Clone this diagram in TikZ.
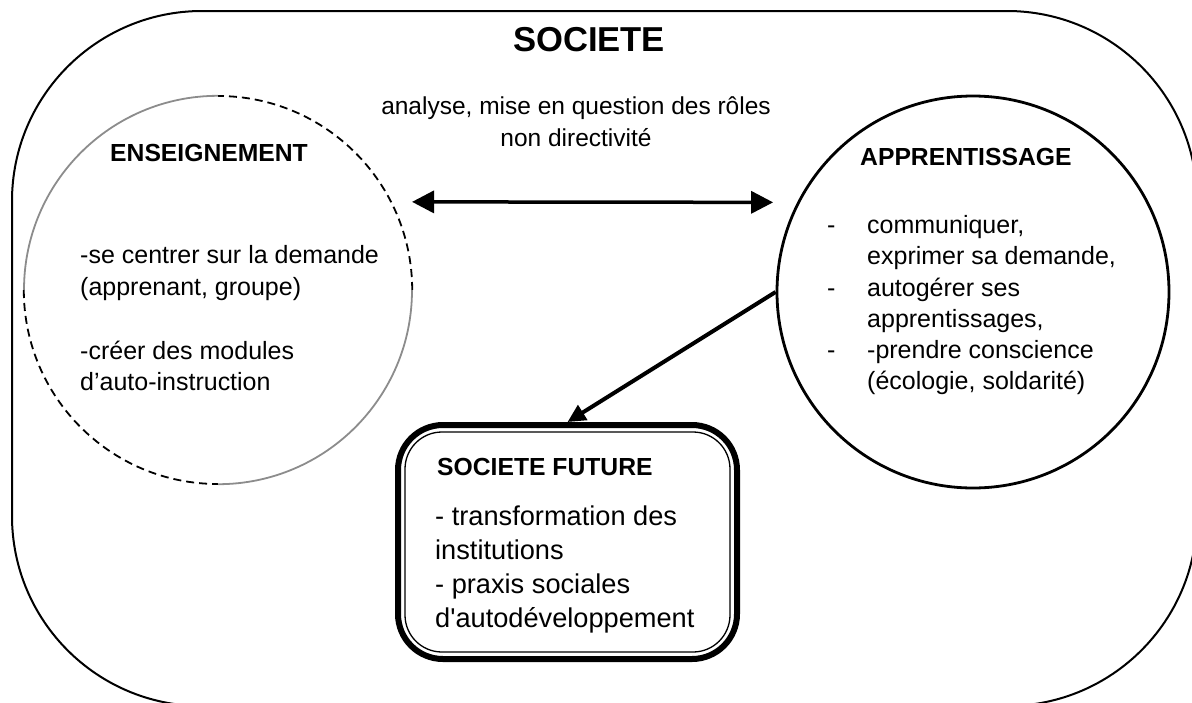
\documentclass[tikz,border=0pt]{standalone}
\usepackage{fontspec}
\setmainfont{Liberation Sans}
\usetikzlibrary{arrows.meta}
\definecolor{arcgray}{gray}{0.55}
\tikzset{ring/.style={circle, inner sep=0pt, minimum size=#1}}
\tikzset{txt/.style={inner sep=0pt, align=left, font=\fontsize{25}{31.2}\selectfont}}
\tikzset{titre/.style={inner sep=0pt, font=\fontsize{24.7}{30}\selectfont\bfseries}}
\tikzset{graypart/.style={line width=1.8pt, draw=arcgray}}
\tikzset{dashpart/.style={line width=1.8pt, dash pattern=on 8pt off 5pt}}
\tikzset{biarrow/.style={line width=3.5pt,
   {Triangle[length=22pt,width=22pt]}-{Triangle[length=22pt,width=22pt]}}}
\tikzset{flech/.style={line width=4pt, -{Triangle[length=18pt,width=17pt]}}}

\begin{document}
\begin{tikzpicture}[x=1pt, y=-1pt]

    \useasboundingbox (0,0) rectangle (1192,702);

    % societe
    \node[draw, line width=2pt, rounded corners=190pt, inner sep=0pt,
          minimum width=1185pt, minimum height=695pt] (soc) at (604.5,358.5) {};
    \node[inner sep=0pt, font=\fontsize{34.6}{40}\selectfont\bfseries] (soct) at (589,40) {SOCIETE};

    \node[txt, align=center, anchor=north, font=\fontsize{24.5}{32}\selectfont] (mid) at (576,96.5)
      {analyse, mise en question des rôles\\non directivité};

    % enseignement
    \node[ring=388pt] (ens) at (218,290) {};
    \draw[dashpart] (ens.east)  arc[start angle=0,   end angle=90,  radius=194pt];
    \draw[graypart] (ens.north) arc[start angle=90,  end angle=180, radius=194pt];
    \draw[dashpart] (ens.west)  arc[start angle=180, end angle=270, radius=194pt];
    \draw[graypart] (ens.south) arc[start angle=270, end angle=360, radius=194pt];

    \node[titre, anchor=west] (enst) at (110,153) {ENSEIGNEMENT};
    \node[txt, anchor=north west] (ensx) at (80,245.5)
      {-se centrer sur la demande\\(apprenant, groupe)\\[33pt]-créer des modules\\d’auto-instruction};

    % apprentissage
    \node[ring=392pt, draw, line width=2.8pt] (app) at (973,292) {};
    \node[titre, anchor=west] (appt) at (860,157) {APPRENTISSAGE};
    \node[txt, anchor=north west] (appx) at (827,211.7) {%
      \begin{tabular}{@{}p{40pt}@{}l@{}}
        - & communiquer,\\
          & exprimer sa demande,\\
        - & autogérer ses\\
          & apprentissages,\\
        - & -prendre conscience\\
          & (écologie, soldarité)
      \end{tabular}};

    % societe future
    \node[draw, line width=6pt, rounded corners=45pt, inner sep=0pt,
          minimum width=339pt, minimum height=234pt] (fut) at (567.5,542) {};
    \draw[line width=1.3pt, rounded corners=37pt]
      ([shift={(10pt,-10pt)}]fut.north west) rectangle ([shift={(-10pt,10pt)}]fut.south east);
    \node[titre, anchor=west] (futt) at (437,467) {SOCIETE FUTURE};
    \node[txt, anchor=north west, font=\fontsize{27.2}{34}\selectfont] (futx) at (435,505.4)
      {- transformation des\\institutions\\- praxis sociales\\d\textquotesingle autodéveloppement};

    % fleches
    \draw[biarrow, shorten <=21pt, shorten >=24pt] (ens.27) -- (app.153);
    \draw[flech] (app.west) -- (fut.north);

\end{tikzpicture}
\end{document}
